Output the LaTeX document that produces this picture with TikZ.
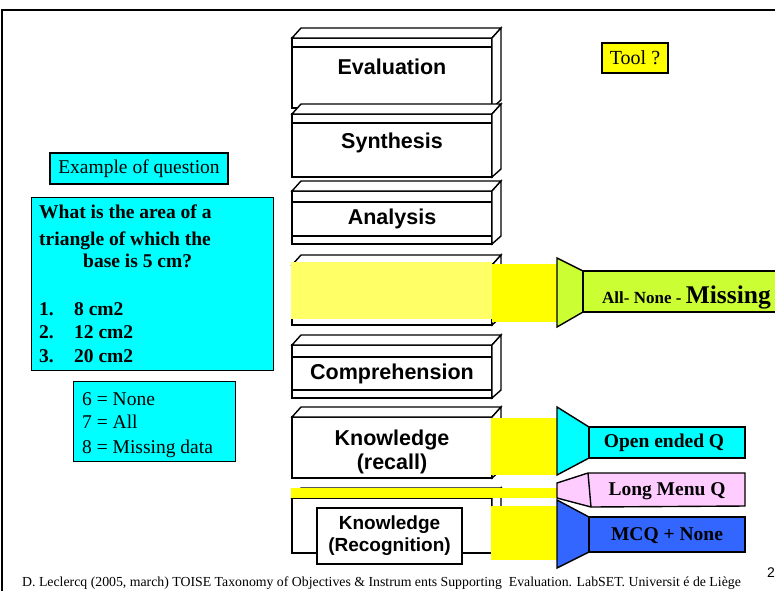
\documentclass[tikz,border=0pt]{standalone}
\usepackage{fontspec}
\setmainfont{Liberation Serif}
\newfontfamily\arialf{Liberation Sans}
\definecolor{qcyan}{HTML}{00FFFF}
\definecolor{hiyellow}{HTML}{FFFF00}
\definecolor{softyellow}{HTML}{FFFF66}
\definecolor{limegreen}{HTML}{CCFF33}
\definecolor{menupink}{HTML}{FFCCFF}
\definecolor{mcqblue}{HTML}{3366FF}
\tikzset{
  edge/.style={draw=black, line width=1.4pt, line join=miter},
  cubelabel/.style={font=\arialf\bfseries\fontsize{21.5}{25}\selectfont, align=center, inner sep=0pt},
  boxtext/.style={font=\fontsize{19.5}{22}\selectfont, inner sep=0pt},
  qtext/.style={font=\bfseries\fontsize{19.5}{22}\selectfont, inner sep=0pt, anchor=base west},
  itemtext/.style={font=\fontsize{19.5}{22}\selectfont, inner sep=0pt, anchor=base west},
  tooltext/.style={font=\bfseries\fontsize{19.5}{22}\selectfont, inner sep=0pt},
  cyanbox/.style={edge, fill=qcyan},
}
% a bevelled block of the taxonomy: front top y, front bottom y
\newcommand\taxcube[2]{%
  \filldraw[edge, fill=white] (292,#1) rectangle (492,#2);
  \filldraw[edge, fill=white] (292,#1) -- (301,#1-10) -- (501,#1-10) -- (492,#1) -- cycle;
  \filldraw[edge, fill=white] (492,#1) -- (501,#1-10) -- (501,#2-8) -- (492,#2) -- cycle;
}
\begin{document}
\begin{tikzpicture}[x=1pt,y=-1pt]
\useasboundingbox (0,0) rectangle (775,590);
\clip (0,0) rectangle (775,590);
\fill[white] (0,0) rectangle (775,590);
% slide frame
\draw[line width=1.8pt] (2,592) -- (2,10) -- (777,10);

% taxonomy blocks
\taxcube{38}{108}
\draw[edge] (292,47) -- (492,47);
\taxcube{114}{177}
\draw[edge] (292,123) -- (492,123);
\taxcube{191}{244}
\draw[edge] (292,202) -- (492,202);
\draw[edge] (292,236) -- (492,236);
\taxcube{265}{325}
\taxcube{345}{398}
\draw[edge] (292,357) -- (492,357);
\draw[edge] (292,390) -- (492,390);
\taxcube{417}{478}
\taxcube{498}{553}

\node[cubelabel] (eval) at (392,67) {Evaluation};
\node[cubelabel] (synth) at (392,143) {Synthesis};
\node[cubelabel] (anal) at (392,219) {Analysis};
\node[cubelabel] (comp) at (392,374) {Comprehension};
\node[cubelabel] (recall) at (392,452) {Knowledge\\[-1pt](recall)};
\node[edge, fill=white, minimum width=145, minimum height=56, inner sep=0pt] (recogbox) at (389.5,536) {};
\node[cubelabel, font=\arialf\bfseries\fontsize{19}{23}\selectfont] (recog) at (recogbox.center) {Knowledge\\[-1pt](Recognition)};

% highlighted levels
\fill[softyellow] (291,262) rectangle (492,319);
\fill[hiyellow] (492,264) rectangle (558,322);
\fill[hiyellow] (491,418) rectangle (558,475);
\fill[hiyellow] (291,488) rectangle (558,498);
\fill[hiyellow] (491,506) rectangle (558,560);

% instruments
\filldraw[edge, fill=limegreen] (557,258) -- (583,271) -- (583,312) -- (557,327) -- cycle;
\filldraw[edge, fill=limegreen] (583,271) rectangle (800,312);
\node[inner sep=0pt, anchor=base west] (allnone) at (602,303)
  {\bfseries\fontsize{17}{20}\selectfont All- None - \fontsize{25.5}{28}\selectfont Missing};

\filldraw[edge, fill=qcyan] (557,407) -- (589,427) -- (589,458) -- (557,475) -- cycle;
\filldraw[edge, fill=qcyan] (589,427) rectangle (745,458);
\node[tooltext] (openq) at (664,443) {Open ended Q};

\filldraw[edge, fill=menupink] (557,483) -- (588,473) -- (745,473) -- (745,506) -- (591,507) -- (557,498) -- cycle;
\draw[edge] (588,473) -- (591,507);
\node[tooltext] (menuq) at (667,491) {Long Menu Q};

\filldraw[edge, fill=mcqblue] (557,500) -- (589,517) -- (589,552) -- (557,568) -- cycle;
\filldraw[edge, fill=mcqblue] (589,517) rectangle (745,552);
\node[tooltext] (mcq) at (667,536) {MCQ + None};

% tool label
\node[edge, fill=hiyellow, minimum width=66, minimum height=30, inner sep=0pt] (tool) at (635,58) {};
\node[boxtext, font=\fontsize{20}{22}\selectfont] (tooltxt) at (tool.center) {Tool ?};

% example question
\node[cyanbox, minimum width=178, minimum height=31, inner sep=0pt] (exq) at (139,168.5) {};
\node[boxtext] (exqtxt) at (exq.center) {Example of question};
\node[cyanbox, minimum width=242, minimum height=173, inner sep=0pt, anchor=north west] (qbox) at (31,197) {};
\node[qtext] (q1) at (39,218) {What is the area of a};
\node[qtext] (q2) at (39,245) {triangle of which the};
\node[qtext] (q3) at (83,267) {base is 5 cm?};
\node[qtext] (n1) at (39,315) {1.};
\node[qtext] (a1) at (74,315) {8 cm2};
\node[qtext] (n2) at (39,338) {2.};
\node[qtext] (a2) at (74,338) {12 cm2};
\node[qtext] (n3) at (39,362) {3.};
\node[qtext] (a3) at (74,362) {20 cm2};

\node[cyanbox, minimum width=162, minimum height=80, inner sep=0pt, anchor=north west] (codes) at (73,381) {};
\node[itemtext] (c6) at (82,405) {6 = None};
\node[itemtext] (c7) at (82,428) {7 = All};
\node[itemtext] (c8) at (82,453) {8 = Missing data};

% footer
\node[inner sep=0pt, anchor=base west, font=\fontsize{13.8}{15}\selectfont] (foot) at (22,586)
  {D. Leclercq (2005, march) TOISE Taxonomy of Objectives \& Instrum ents Supporting\ \ Evaluation. LabSET. Universit é de Liège};
\node[inner sep=0pt, font=\arialf\fontsize{14}{16}\selectfont] (pagenum) at (771,573) {2};
\end{tikzpicture}
\end{document}
